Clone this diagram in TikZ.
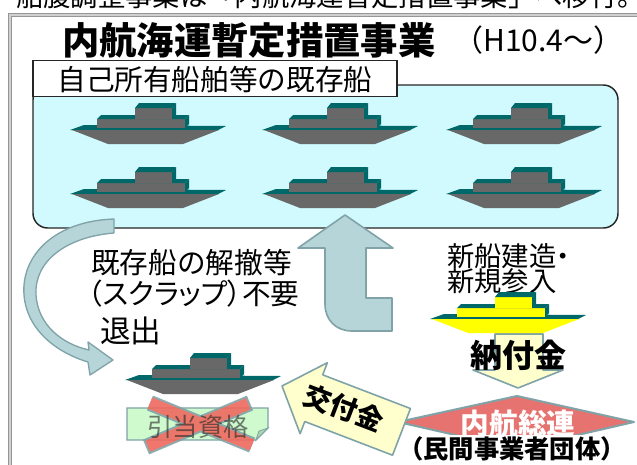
\documentclass[tikz,border=0pt]{standalone}
\usepackage{fontspec}
\setmainfont{Noto Sans CJK JP}
\newfontfamily\jpprop{Noto Sans CJK JP}[RawFeature=+palt]
\usetikzlibrary{calc}

\definecolor{boxcyan}{RGB}{208,250,253}
\definecolor{shipgray}{RGB}{104,104,104}
\definecolor{shipteal}{RGB}{0,104,104}
\definecolor{shipyellow}{RGB}{255,255,0}
\definecolor{arrowblue}{RGB}{182,213,217}
\definecolor{arrowedge}{RGB}{128,163,168}
\definecolor{paleyellow}{RGB}{255,255,206}
\definecolor{salmon}{RGB}{230,115,112}
\definecolor{palegreen}{RGB}{206,250,206}
\definecolor{foldgreen}{RGB}{170,215,170}
\definecolor{crossred}{RGB}{238,105,95}
\definecolor{framegray}{RGB}{150,150,150}

\tikzset{
  pics/ship/.style={code={
    % hull: teal deck face, then the front
    \fill[shipteal] (0,0) -- (14,-5) -- (156,-4) -- (148,0) -- cycle;
    \fill[#1] (2,0) -- (149,0) -- (113,14) -- (38,14) -- cycle;
    % lower deckhouse
    \fill[#1] (27,-11) rectangle (115,-2);
    \fill[shipteal] (27,-11) -- (31,-15) -- (119,-15) -- (115,-11) -- cycle;
    \fill[shipteal] (115,-11) -- (119,-15) -- (119,-6) -- (115,-2) -- cycle;
    % bridge
    \fill[#1] (65,-22) rectangle (102,-11);
    \fill[shipteal] (65,-22) -- (69,-27) -- (106,-27) -- (102,-22) -- cycle;
    \fill[shipteal] (102,-22) -- (106,-27) -- (106,-15) -- (102,-11) -- cycle;
  }},
  label/.style={inner sep=0pt, anchor=west},
  blockarrow/.style={fill=arrowblue, draw=arrowedge, line width=1.2pt, line join=round},
  palearrow/.style={fill=paleyellow, draw=arrowedge, line width=1.2pt, line join=round},
}

\begin{document}
\begin{tikzpicture}[x=0.75pt,y=-0.75pt]
\useasboundingbox (0,0) rectangle (637,465);
\clip (0,0) rectangle (637,465);
\fill[white] (0,0) rectangle (637,465);

% preceding line of the page, mostly outside the frame
\node[anchor=base west, inner sep=0pt, font=\fontsize{20.5pt}{20.5pt}\selectfont] (lead) at (16,6)
  {船腹調整事業は「内航海運暫定措置事業」へ移行。};

% page frame
\draw[framegray, line width=1pt, double=framegray!45, double distance=1.5pt] (10,480) -- (10,15) -- (650,15);

% title
\node[label, font=\bfseries\fontsize{28pt}{28pt}\selectfont] (title) at (62,40) {内航海運暫定措置事業};
\node[label, font=\fontsize{22.5pt}{22.5pt}\selectfont] (period) at (453,40) {（H10.4～）};

% existing fleet
\node[draw=black!85, line width=1.1pt, fill=boxcyan, rounded corners=11pt,
      minimum width=438.75pt, minimum height=107.25pt, inner sep=0pt] (fleet) at (325.5,156.5) {};
\node[draw=black!85, line width=1.1pt, fill=white, minimum width=273pt, minimum height=27pt,
      inner sep=0pt] (fleetlabel) at (215,78.5) {};
\node[font=\fontsize{21.5pt}{21.5pt}\selectfont, inner sep=0pt] (fleettext) at (215,80) {自己所有船舶等の既存船};

\foreach \sx/\sy [count=\i] in {70/130, 262/130, 446/130, 70/194, 262/194, 446/194}
  \pic (fleetship\i) at (\sx,\sy) {ship=shipgray};

% leaving the market
\filldraw[blockarrow, line width=1pt]
  (114,219) .. controls (55,221) and (21,255) .. (24,295)
  .. controls (27,331) and (58,353) .. (88,362)
  -- (90,375) -- (113,360) -- (88,342) -- (89,350)
  .. controls (62,344) and (38,325) .. (36,295)
  .. controls (34,262) and (65,237) .. (114,233) -- cycle;

% entering the market
\filldraw[blockarrow]
  (345,215) -- (393,248) -- (366,248) -- (366,298) -- (392,298) -- (392,331)
  -- (352,331) .. controls (336,331) and (325,320) .. (325,304)
  -- (325,248) -- (298,248) -- cycle;

\node[label, font=\fontsize{21.5pt}{21.5pt}\selectfont] (scrap1) at (91,263) {既存船の解撤等};
\node[label, font=\jpprop\fontsize{21.5pt}{21.5pt}\selectfont] (scrap2) at (88,294) {（スクラップ）不要};
\node[label, font=\fontsize{23pt}{23pt}\selectfont] (exit) at (100,331) {退出};

\node[label, font=\jpprop\fontsize{20.5pt}{20.5pt}\selectfont] (new1) at (447,256) {新船建造・};
\node[label, font=\fontsize{20.5pt}{20.5pt}\selectfont] (new2) at (447,281) {新規参入};

% contribution from new ships
\filldraw[palearrow] (495,334) -- (543,334) -- (543,370) -- (563,370) -- (518,388)
  -- (473,370) -- (495,370) -- cycle;
\pic (newship) at (430,319) {ship=shipyellow};
\node[font=\bfseries\fontsize{24pt}{24pt}\selectfont, inner sep=0pt] (levy) at (518,355) {納付金};

% association
\filldraw[fill=salmon, draw=arrowedge, line width=1.5pt, line join=round]
  (398,422) -- (517,396) -- (634,422) -- (517,449) -- cycle;
\node[font=\bfseries\fontsize{21.5pt}{21.5pt}\selectfont, text=white, inner sep=0pt] (assoc) at (518,424) {内航総連};
\node[font=\bfseries\fontsize{19pt}{19pt}\selectfont, fill=white, inner sep=1pt] (assocsub) at (512,449) {（民間事業者団体）};

% grant to the leaving ship
\begin{scope}[shift={(282,386)}, rotate=-21]
  \filldraw[palearrow] (0,0) -- (34,-38) -- (34,-25) -- (128,-25) -- (128,25)
    -- (34,25) -- (34,38) -- cycle;
\end{scope}
\node[font=\bfseries\fontsize{20.5pt}{20.5pt}\selectfont, rotate=-21, inner sep=0pt] (grant) at (344,408) {交付金};

% scrapped ship and its cancelled allotment
\pic (oldship) at (125,380) {ship=shipgray};
\filldraw[fill=palegreen, draw=arrowedge, line width=1pt]
  (127,408) -- (268,408) -- (268,428) -- (256,440) -- (127,440) -- cycle;
\filldraw[fill=foldgreen, draw=arrowedge, line width=0.6pt] (268,428) -- (256,440) -- (259,431) -- cycle;
\coordinate (xa) at (150,403);
\coordinate (xb) at (252,445);
\coordinate (xc) at (250,403);
\coordinate (xd) at (146,447);
\begin{scope}[transparency group, opacity=0.9]
  \draw[arrowedge, line width=12pt] (xa) -- (xb) (xc) -- (xd);
  \draw[crossred, line width=9pt, shorten <=1.5pt, shorten >=1.5pt] (xa) -- (xb) (xc) -- (xd);
\end{scope}
\node[font=\fontsize{19pt}{19pt}\selectfont, text=black!85, text opacity=0.6, inner sep=0pt] (allot) at (198,427) {引当資格};
\end{tikzpicture}
\end{document}
